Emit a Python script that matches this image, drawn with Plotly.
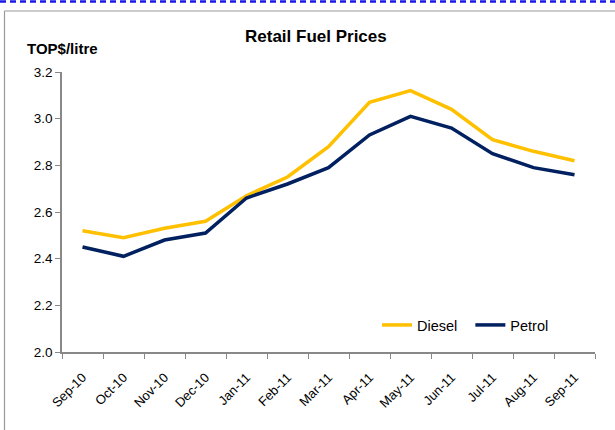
import plotly.graph_objects as go

months = ["Sep-10", "Oct-10", "Nov-10", "Dec-10", "Jan-11", "Feb-11", "Mar-11",
          "Apr-11", "May-11", "Jun-11", "Jul-11", "Aug-11", "Sep-11"]
diesel = [2.52, 2.49, 2.53, 2.56, 2.67, 2.75, 2.88, 3.07, 3.12, 3.04, 2.91, 2.86, 2.82]
petrol = [2.45, 2.41, 2.48, 2.51, 2.66, 2.72, 2.79, 2.93, 3.01, 2.96, 2.85, 2.79, 2.76]
yticks = [2.0, 2.2, 2.4, 2.6, 2.8, 3.0, 3.2]

W, H = 615, 430
L, R, T, B = 62, 20, 72, 78
pw, ph = W - L - R, H - T - B

def px(x):
    return (x - L) / pw

def py(y):
    return (H - B - y) / ph

FONT = "Liberation Sans, Arial, sans-serif"

fig = go.Figure()
fig.add_trace(go.Scatter(x=months, y=diesel, name="Diesel  ", mode="lines",
                         line=dict(color="#FFC000", width=3.5)))
fig.add_trace(go.Scatter(x=months, y=petrol, name="Petrol", mode="lines",
                         line=dict(color="#002060", width=3.5)))

fig.update_layout(
    width=W, height=H,
    margin=dict(l=L, r=R, t=T, b=B, autoexpand=False),
    paper_bgcolor="white", plot_bgcolor="white",
    font=dict(family=FONT, size=13, color="black"),
    showlegend=True,
    legend=dict(orientation="h", x=px(377), y=py(325), xanchor="left", yanchor="middle",
                font=dict(size=14.5), bgcolor="rgba(0,0,0,0)", tracegroupgap=0,
                itemwidth=30),
    xaxis=dict(type="category", tickson="boundaries", showgrid=False,
               range=[-0.5, len(months) - 0.5], automargin=False,
               showline=True, linecolor="#888888", linewidth=1.5,
               ticks="outside", ticklen=5, tickcolor="#888888",
               tickangle=-45, tickfont=dict(size=13), ticklabelstandoff=11,
               zeroline=False, fixedrange=True),
    yaxis=dict(range=[2.0, 3.2], tickvals=yticks, ticktext=[f"{v:.1f}" for v in yticks],
               automargin=False,
               showgrid=False, showline=True, linecolor="#888888", linewidth=1.5,
               ticks="outside", ticklen=5, tickcolor="#888888", zeroline=False,
               tickfont=dict(size=13.5)),
    shapes=[
        dict(type="line", xref="paper", yref="paper", x0=px(0), x1=px(615),
             y0=py(1.5), y1=py(1.5), line=dict(color="#1a1ae6", width=2.5, dash="6px,4px")),
        dict(type="line", xref="paper", yref="paper", x0=px(4.5), x1=px(615),
             y0=py(11), y1=py(11), line=dict(color="#999999", width=1.2)),
        dict(type="line", xref="paper", yref="paper", x0=px(4.5), x1=px(4.5),
             y0=py(11), y1=py(431), line=dict(color="#999999", width=1.2)),
    ],
    annotations=[
        dict(text="<b>Retail Fuel Prices</b>", xref="paper", yref="paper",
             x=px(316), y=py(36), xanchor="center", yanchor="middle",
             showarrow=False, font=dict(size=17)),
        dict(text="<b>TOP$/litre</b>", xref="paper", yref="paper",
             x=px(25), y=py(48), xanchor="left", yanchor="middle",
             showarrow=False, font=dict(size=15)),
    ],
)

fig.write_html("out.html", config={"displayModeBar": False},
               post_script="document.body.style.margin='0';")
